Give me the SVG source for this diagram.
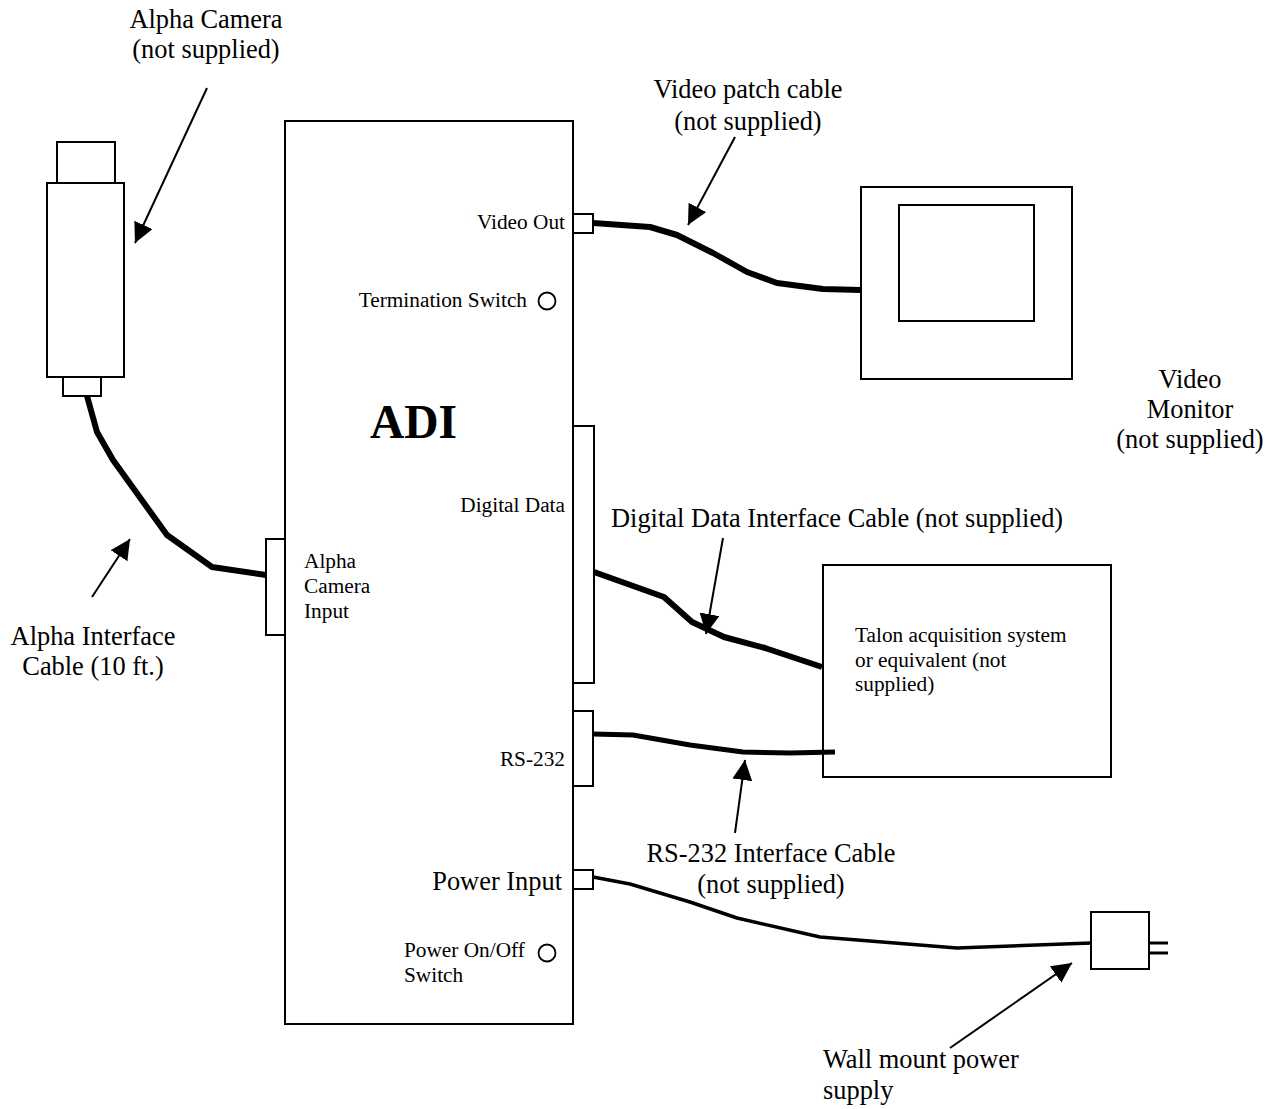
<svg xmlns="http://www.w3.org/2000/svg" width="1273" height="1109" viewBox="0 0 1273 1109">
<style>
  text { font-family: "Liberation Serif", "Times New Roman", serif; fill: #000; }
  .lg { font-size: 26.4px; }
  .sm { font-size: 21.3px; }
  .mid { text-anchor: middle; }
  .end { text-anchor: end; }
  .box { fill: #fff; stroke: #000; stroke-width: 2; }
  .cable { fill: none; stroke: #000; stroke-linejoin: round; stroke-linecap: butt; }
  .arrow { fill: none; stroke: #000; stroke-width: 2; marker-end: url(#ah); }
</style>
<defs>
  <marker id="ah" markerUnits="userSpaceOnUse" markerWidth="22" markerHeight="22" refX="20" refY="10" orient="auto">
    <path d="M0,0 L20,10 L0,20 z" fill="#000"/>
  </marker>
</defs>
<rect width="1273" height="1109" fill="#fff"/>

<g id="connectors">
  <polyline class="cable" stroke-width="6" points="87,396 97,432 113,460 167,535 212,567 266,575"/>
  <polyline class="cable" stroke-width="6" points="593,223 650,227 677,235 713,253 747,272 777,283 823,289 861,290"/>
  <polyline class="cable" stroke-width="6" points="594,572 664,597 692,622 724,637 765,648 822,667"/>
  <polyline class="cable" stroke-width="5" points="593,734 633,735 690,745 743,752 790,753 835,752"/>
  <polyline class="cable" stroke-width="3.5" points="593,877 630,884 690,902 737,918 820,937 957,948 1091,943"/>
  <line class="arrow" x1="207" y1="88" x2="135" y2="243"/>
  <line class="arrow" x1="735" y1="137" x2="688" y2="225"/>
  <line class="arrow" x1="723" y1="538" x2="706" y2="634"/>
  <line class="arrow" x1="735" y1="833" x2="745" y2="760"/>
  <line class="arrow" x1="950" y1="1048" x2="1072" y2="963"/>
  <line class="arrow" x1="92" y1="597" x2="130" y2="539"/>
</g>

<g id="camera">
  <rect class="box" x="57" y="142" width="58" height="41"/>
  <rect class="box" x="47" y="183" width="77" height="194"/>
  <rect class="box" x="63" y="377" width="38" height="19"/>
  <text class="lg mid" x="206" y="28">Alpha Camera</text>
  <text class="lg mid" x="206" y="58">(not supplied)</text>
</g>

<g id="adi">
  <rect class="box" x="285" y="121" width="288" height="903"/>
  <text x="370" y="438" font-size="47.5" font-weight="bold">ADI</text>
  <rect class="box" x="573" y="214" width="20" height="19"/>
  <text class="sm end" x="565" y="229">Video Out</text>
  <text class="sm end" x="527" y="307">Termination Switch</text>
  <circle cx="547" cy="301" r="8.5" fill="#fff" stroke="#000" stroke-width="1.8"/>
  <rect class="box" x="573" y="426" width="21" height="257"/>
  <text class="sm end" x="565" y="512">Digital Data</text>
  <rect class="box" x="266" y="539" width="19" height="96"/>
  <text class="sm" x="304" y="568">Alpha</text>
  <text class="sm" x="304" y="593">Camera</text>
  <text class="sm" x="304" y="618">Input</text>
  <rect class="box" x="573" y="711" width="20" height="75"/>
  <text class="sm end" x="565" y="766">RS-232</text>
  <rect class="box" x="573" y="870" width="20" height="19"/>
  <text class="lg end" x="562" y="890">Power Input</text>
  <text class="sm" x="404" y="957">Power On/Off</text>
  <text class="sm" x="404" y="982">Switch</text>
  <circle cx="547" cy="953" r="8.5" fill="#fff" stroke="#000" stroke-width="1.8"/>
</g>

<g id="monitor">
  <rect class="box" x="861" y="187" width="211" height="192"/>
  <rect class="box" x="899" y="205" width="135" height="116"/>
  <text class="lg mid" x="1190" y="388">Video</text>
  <text class="lg mid" x="1190" y="418">Monitor</text>
  <text class="lg mid" x="1190" y="448">(not supplied)</text>
</g>

<g id="talon">
  <rect x="823" y="565" width="288" height="212" fill="none" stroke="#000" stroke-width="2"/>
  <text class="sm" x="855" y="642">Talon acquisition system</text>
  <text class="sm" x="855" y="667">or equivalent (not</text>
  <text class="sm" x="855" y="691">supplied)</text>
</g>

<g id="power-supply">
  <line x1="1149" y1="943" x2="1168" y2="943" stroke="#000" stroke-width="3"/>
  <line x1="1149" y1="953" x2="1168" y2="953" stroke="#000" stroke-width="3"/>
  <rect class="box" x="1091" y="912" width="58" height="57"/>
  <text class="lg" x="823" y="1068">Wall mount power</text>
  <text class="lg" x="823" y="1099">supply</text>
</g>

<g id="labels">
  <text class="lg mid" x="748" y="98">Video patch cable</text>
  <text class="lg mid" x="748" y="130">(not supplied)</text>
  <text class="lg" x="611" y="527">Digital Data Interface Cable (not supplied)</text>
  <text class="lg mid" x="771" y="862">RS-232 Interface Cable</text>
  <text class="lg mid" x="771" y="893">(not supplied)</text>
  <text class="lg mid" x="93" y="645">Alpha Interface</text>
  <text class="lg mid" x="93" y="675">Cable (10 ft.)</text>
</g>
</svg>
